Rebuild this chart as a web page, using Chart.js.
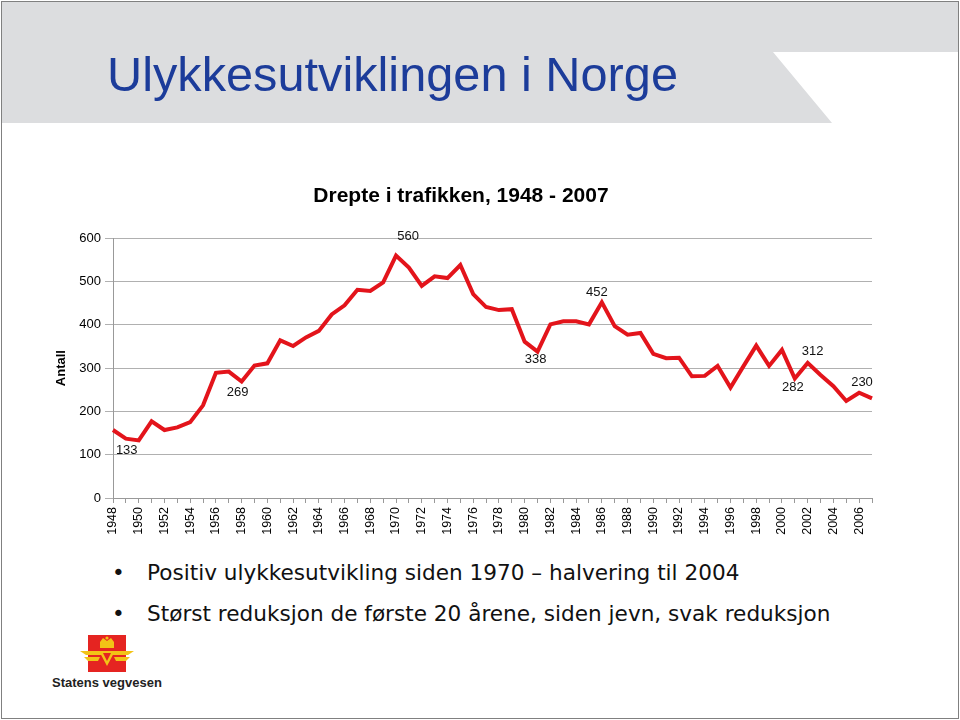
<!DOCTYPE html>
<html>
<head>
<meta charset="utf-8">
<script src="https://cdn.jsdelivr.net/npm/chart.js@4/dist/chart.umd.min.js"></script>
<style>
  html, body { margin: 0; padding: 0; background: #fff; }
  body { width: 960px; height: 720px; position: relative; overflow: hidden; font-family: "Liberation Sans", Arial, sans-serif; }
  #frame { position: absolute; left: 1px; top: 1px; width: 956px; height: 716px; border: 1px solid #808080; box-sizing: content-box; }
  #header { position: absolute; left: 0; top: 0; }
  #mainTitle { position: absolute; left: 107px; top: 46px; font-family: "Liberation Sans", Arial, sans-serif; font-size: 48.7px; line-height: 56px; color: #1c3c9a; white-space: nowrap; }
  #chartBox { position: absolute; left: 0; top: 170px; width: 922px; height: 380px; }
  .bullet { position: absolute; left: 112px; font-family: "DejaVu Sans", Verdana, sans-serif; font-size: 21.6px; line-height: 25px; color: #111; white-space: nowrap; }
  .bullet .dot { display: inline-block; width: 35px; }
  #logoText { position: absolute; left: 52px; top: 675px; font-family: "Liberation Sans", Arial, sans-serif; font-weight: bold; font-size: 13px; color: #222; white-space: nowrap; }
</style>
</head>
<body>
<svg id="header" width="960" height="130">
  <polygon points="2,2 958,2 958,52 773,52 832,123 2,123" fill="#dcdddf"/>
</svg>
<div id="frame"></div>
<div id="mainTitle">Ulykkesutviklingen i Norge</div>
<div id="chartBox"><canvas id="c" width="922" height="380"></canvas></div>
<div class="bullet" style="top:560px"><span class="dot">•</span>Positiv ulykkesutvikling siden 1970 – halvering til 2004</div>
<div class="bullet" style="top:601px"><span class="dot">•</span>Størst reduksjon de første 20 årene, siden jevn, svak reduksjon</div>
<svg style="position:absolute;left:78px;top:633px" width="58" height="42">
  <rect x="10" y="2" width="38" height="37" fill="#e52421"/>
  <g fill="#f2c316">
    <rect x="22" y="9" width="14" height="6"/>
    <polygon points="22,9 25,5 29,8 33,5 36,9"/>
    <circle cx="29" cy="5" r="1.6"/>
    <polygon points="2,18 22,18 25,22 8,22"/>
    <polygon points="56,18 36,18 33,22 50,22"/>
    <polygon points="6,24 22,24 20,28 10,28"/>
    <polygon points="52,24 36,24 38,28 48,28"/>
    <polygon points="21,18 37,18 29,33"/>
  </g>
  <polygon points="25,20 33,20 29,28" fill="#e52421"/>
</svg>
<div id="logoText">Statens vegvesen</div>

<script>
const years = [1948,1949,1950,1951,1952,1953,1954,1955,1956,1957,
               1958,1959,1960,1961,1962,1963,1964,1965,1966,1967,
               1968,1969,1970,1971,1972,1973,1974,1975,1976,1977,
               1978,1979,1980,1981,1982,1983,1984,1985,1986,1987,
               1988,1989,1990,1991,1992,1993,1994,1995,1996,1997,
               1998,1999,2000,2001,2002,2003,2004,2005,2006,2007];
const deaths = [157,137,133,177,157,163,175,214,289,292,
                269,306,311,364,351,371,386,424,445,481,
                478,498,560,532,490,512,508,538,471,441,
                434,436,361,338,401,408,408,401,452,397,
                377,381,333,323,324,281,282,305,255,304,
                352,305,342,276,312,284,258,224,243,230];
const yTicks = [0,100,200,300,400,500,600];
const labelYears = [1950,1958,1970,1981,1986,2001,2002,2007];
const labelTexts = ['133','269','560','338','452','282','312','230'];
const labelOffsets = [[-12,10],[-4,11],[12,-19],[-2,8],[-5,-10],[-2,9],[5,-11],[-10,-16]];

const pointLabels = {
  id: 'pointLabels',
  afterDatasetsDraw(chart) {
    const meta = chart.getDatasetMeta(0);
    const ctx = chart.ctx;
    ctx.save();
    ctx.font = '13px "Liberation Sans", Arial, sans-serif';
    ctx.fillStyle = '#111';
    ctx.textAlign = 'center';
    ctx.textBaseline = 'middle';
    labelYears.forEach((yr, i) => {
      const idx = years.indexOf(yr);
      const el = meta.data[idx];
      ctx.fillText(labelTexts[i], el.x + labelOffsets[i][0], el.y + labelOffsets[i][1]);
    });
    ctx.restore();
  }
};

new Chart(document.getElementById('c'), {
  type: 'line',
  data: {
    labels: years.map(String),
    datasets: [{
      data: deaths,
      borderColor: '#e3141b',
      borderWidth: 4,
      pointRadius: 0,
      tension: 0,
      fill: false
    }]
  },
  options: {
    responsive: false,
    animation: false,
    layout: { padding: { left: 50, right: 50, top: 0, bottom: 0 } },
    plugins: {
      legend: { display: false },
      tooltip: { enabled: false },
      title: {
        display: true,
        text: 'Drepte i trafikken, 1948 - 2007',
        color: '#000',
        font: { family: '"Liberation Sans", Arial, sans-serif', size: 21, weight: 'bold' },
        padding: { top: 14, bottom: 29 }
      }
    },
    scales: {
      x: {
        type: 'category',
        offset: false,
        grid: { display: true, drawOnChartArea: false, drawTicks: true, tickLength: 5, color: '#999' },
        border: { display: true, color: '#999' },
        ticks: {
          autoSkip: false,
          minRotation: 90,
          maxRotation: 90,
          padding: 4,
          color: '#000',
          font: { family: '"Liberation Sans", Arial, sans-serif', size: 12.5 },
          callback: function(v, i) { return years[i] % 2 === 0 ? String(years[i]) : ''; }
        },
        afterFit: function(s) { s.height = 52; }
      },
      y: {
        min: 0,
        max: 600,
        afterBuildTicks: function(s) { s.ticks = yTicks.map(v => ({ value: v })); },
        grid: { color: '#b0b0b0', tickLength: 8, drawTicks: true },
        border: { display: true, color: '#999' },
        ticks: {
          padding: 4,
          color: '#000',
          font: { family: '"Liberation Sans", Arial, sans-serif', size: 13 }
        },
        title: {
          display: true,
          text: 'Antall',
          color: '#000',
          font: { family: '"Liberation Sans", Arial, sans-serif', size: 13, weight: 'bold' },
          padding: { top: 4, bottom: 0 }
        },
        afterFit: function(s) { s.width = 63; }
      }
    }
  },
  plugins: [pointLabels]
});
</script>
</body>
</html>
